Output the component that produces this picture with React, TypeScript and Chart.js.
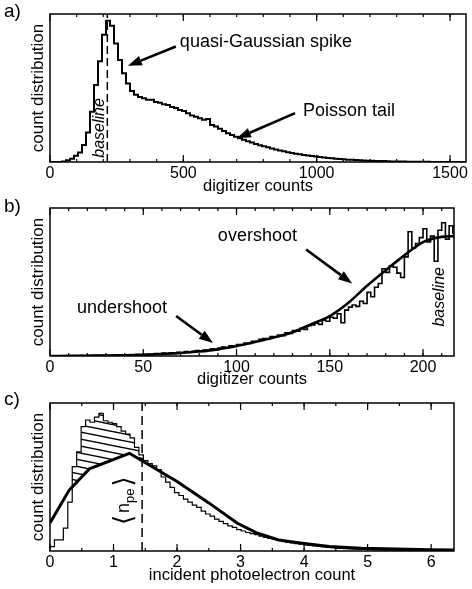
import React, { useEffect, useRef } from "react";
import { Chart, registerables } from "chart.js";

Chart.register(...registerables);

const FONT = "'Liberation Sans', Arial, Helvetica, sans-serif";

// ---------------- panel a ----------------
const aBinWidth = 15;
const aCounts = [
  0, 0, 0, 0.004, 0.012, 0.022, 0.042, 0.065, 0.115, 0.2,
  0.34, 0.52, 0.68, 0.86, 0.955, 0.92, 0.8, 0.69, 0.6, 0.53,
  0.48, 0.455, 0.44, 0.43, 0.42, 0.42, 0.405, 0.4, 0.39, 0.385,
  0.372, 0.365, 0.352, 0.345, 0.33, 0.315, 0.305, 0.295, 0.285, 0.29,
  0.25, 0.24, 0.225, 0.21, 0.195, 0.183, 0.17, 0.16, 0.15, 0.14,
  0.132, 0.122, 0.113, 0.106, 0.099, 0.091, 0.084, 0.078, 0.072, 0.066,
  0.061, 0.056, 0.052, 0.048, 0.044, 0.04, 0.037, 0.034, 0.031, 0.027,
  0.025, 0.022, 0.02, 0.018, 0.016, 0.015, 0.013, 0.011, 0.01, 0.009,
  0.008, 0.007, 0.006, 0.006, 0.005, 0.004, 0.004, 0.003, 0.003, 0.002,
  0.002, 0.002, 0.001, 0.001, 0.001, 0, 0, 0, 0, 0,
  0, 0, 0, 0,
];
const aTicks = [0, 500, 1000, 1500];
const aMinorStep = 100;
const aBaseline = 215;

// ---------------- panel b ----------------
const bBinWidth = 2;
const bCounts = [
  0, 0, 0.002, 0, 0.002, 0.002, 0, 0.002, 0.003, 0.002,
  0.003, 0.002, 0.004, 0.003, 0.004, 0.003, 0.005, 0.004, 0.006, 0.005,
  0.006, 0.008, 0.006, 0.009, 0.008,
  0.01, 0.012, 0.01, 0.016, 0.013, 0.02, 0.016, 0.022, 0.018, 0.025,
  0.022, 0.03, 0.026, 0.032, 0.036, 0.033, 0.04, 0.038, 0.048, 0.043,
  0.054, 0.06, 0.056, 0.069, 0.064,
  0.078, 0.074, 0.088, 0.084, 0.1, 0.1, 0.112, 0.118, 0.114, 0.132,
  0.128, 0.142, 0.138, 0.156, 0.152, 0.172, 0.168, 0.188, 0.18, 0.204,
  0.21, 0.222, 0.214, 0.242, 0.235,
  0.262, 0.255, 0.285, 0.225, 0.31, 0.33, 0.345, 0.335, 0.37, 0.355,
  0.43, 0.4, 0.465, 0.49, 0.59, 0.565, 0.61, 0.6, 0.56, 0.53,
  0.67, 0.84, 0.73, 0.76, 0.8,
  0.86, 0.77, 0.81, 0.64, 0.85, 0.9, 0.79, 0.88, 0.83,
];
const bFitX = [0, 10, 20, 30, 40, 50, 60, 70, 80, 90, 100, 110, 120, 130, 140, 150, 160, 170, 180, 190, 200, 210, 217];
const bFitY = [0, 0.001, 0.002, 0.003, 0.005, 0.008, 0.013, 0.02, 0.03, 0.045, 0.068, 0.095, 0.125, 0.16, 0.215, 0.27, 0.36, 0.475, 0.58, 0.68, 0.77, 0.805, 0.81];
const bTicks = [0, 50, 100, 150, 200];
const bMinorStep = 10;

// ---------------- panel c ----------------
const cBinWidth = 0.07;
const cCounts = [
  0.03, 0.075, 0.075, 0.155, 0.33, 0.57, 0.67, 0.84, 0.885, 0.87,
  0.905, 0.93, 0.88, 0.87, 0.86, 0.84, 0.81, 0.79, 0.765, 0.7,
  0.65, 0.61, 0.59, 0.575, 0.55, 0.5, 0.465, 0.43, 0.395, 0.375,
  0.35, 0.33, 0.31, 0.295, 0.27, 0.25, 0.235, 0.215, 0.2, 0.185,
  0.17, 0.16, 0.145, 0.135, 0.125, 0.118, 0.11, 0.1, 0.092, 0.085,
  0.078, 0.072, 0.066, 0.06, 0.055, 0.05, 0.046, 0.042, 0.038, 0.034,
  0.031, 0.028, 0.025, 0.022, 0.02, 0.018, 0.016, 0.014, 0.013, 0.012,
  0.011, 0.01, 0.009, 0.008, 0.007, 0.006, 0.006, 0.005, 0.005, 0.004,
  0.004, 0.003, 0.003, 0.003, 0.002, 0.002, 0.002, 0.001, 0.001, 0.001,
];
const cCurveX = [0, 0.3, 0.62, 1.25, 2.0, 2.5, 2.95, 3.27, 3.6, 3.97, 4.4, 4.9, 5.45, 5.97, 6.36];
const cCurveY = [0.19, 0.41, 0.555, 0.66, 0.47, 0.325, 0.187, 0.12, 0.074, 0.052, 0.03, 0.018, 0.013, 0.009, 0.006];
const cTicks = [0, 1, 2, 3, 4, 5, 6];
const cMinorStep = 0.5;
const cMean = 1.45;

// ---------------- helpers ----------------
function histPoints(counts: number[], width: number) {
  const pts = counts.map((v, i) => ({ x: i * width, y: v }));
  pts.push({ x: counts.length * width, y: counts[counts.length - 1] });
  return pts;
}
function zipPoints(xs: number[], ys: number[]) {
  return xs.map((x, i) => ({ x, y: ys[i] }));
}
function vline(x: number) {
  return [{ x, y: 0 }, { x, y: 1 }];
}

type Note =
  | { kind: "text"; text: string; x: number; y: number; size: number; italic?: boolean; rotate?: boolean }
  | { kind: "arrow"; x1: number; y1: number; x2: number; y2: number }
  | { kind: "npe"; x: number; y: number };

function scales(xmin: number, xmax: number, ticks: number[], xTitle: string, xAxisH: number) {
  return {
    x: {
      type: "linear",
      min: xmin,
      max: xmax,
      grid: { display: false, drawTicks: false },
      border: { display: false },
      afterBuildTicks: (s: any) => {
        s.ticks = ticks.map((v) => ({ value: v }));
      },
      afterFit: (s: any) => {
        s.height = xAxisH;
      },
      ticks: {
        color: "#000",
        font: { size: 16, family: FONT },
        padding: 2,
        maxRotation: 0,
        minRotation: 0,
        autoSkip: false,
        callback: (v: any) => String(v),
      },
      title: { display: true, text: xTitle, color: "#000", font: { size: 16.5, family: FONT }, padding: 0 },
    },
    y: {
      type: "linear",
      min: 0,
      max: 1,
      grid: { display: false, drawTicks: false },
      border: { display: false },
      ticks: { display: false },
      afterFit: (s: any) => {
        s.width = 50;
      },
      title: {
        display: true,
        text: "count distribution",
        color: "#000",
        font: { size: 17, family: FONT },
        padding: { top: 28, bottom: 0 },
      },
    },
  };
}

function decorPlugin(cfg: {
  label: string;
  labelY: number;
  major: number[];
  minorStep: number;
  xmin: number;
  xmax: number;
  notes: Note[];
}) {
  return {
    id: "decor",
    afterDatasetsDraw(chart: any) {
      const { ctx, chartArea } = chart;
      const { left, right, top, bottom } = chartArea;
      const xs = chart.scales.x;
      const ys = chart.scales.y;
      ctx.save();
      ctx.strokeStyle = "#000";
      ctx.fillStyle = "#000";
      ctx.lineWidth = 1.5;
      ctx.strokeRect(left, top, right - left, bottom - top);
      ctx.lineWidth = 1.2;
      const tick = (v: number, len: number) => {
        const px = xs.getPixelForValue(v);
        ctx.beginPath();
        ctx.moveTo(px, bottom);
        ctx.lineTo(px, bottom - len);
        ctx.moveTo(px, top);
        ctx.lineTo(px, top + len);
        ctx.stroke();
      };
      for (let v = cfg.xmin + cfg.minorStep; v < cfg.xmax - 1e-9; v += cfg.minorStep) tick(v, 3);
      cfg.major.forEach((v) => tick(v, 7));

      for (const n of cfg.notes) {
        if (n.kind === "text") {
          const px = xs.getPixelForValue(n.x);
          const py = ys.getPixelForValue(n.y);
          ctx.font = `${n.italic ? "italic " : ""}${n.size}px ${FONT}`;
          ctx.textBaseline = "middle";
          if (n.rotate) {
            ctx.save();
            ctx.translate(px, py);
            ctx.rotate(-Math.PI / 2);
            ctx.textAlign = "center";
            ctx.fillText(n.text, 0, 0);
            ctx.restore();
          } else {
            ctx.textAlign = "left";
            ctx.fillText(n.text, px, py);
          }
        } else if (n.kind === "arrow") {
          const ax = xs.getPixelForValue(n.x1);
          const ay = ys.getPixelForValue(n.y1);
          const bx = xs.getPixelForValue(n.x2);
          const by = ys.getPixelForValue(n.y2);
          const ang = Math.atan2(by - ay, bx - ax);
          const hl = 14;
          const hw = 5;
          const cx = bx - hl * Math.cos(ang);
          const cy = by - hl * Math.sin(ang);
          ctx.lineWidth = 2.6;
          ctx.beginPath();
          ctx.moveTo(ax, ay);
          ctx.lineTo(cx, cy);
          ctx.stroke();
          ctx.beginPath();
          ctx.moveTo(bx, by);
          ctx.lineTo(cx - hw * Math.sin(ang), cy + hw * Math.cos(ang));
          ctx.lineTo(cx + hw * Math.sin(ang), cy - hw * Math.cos(ang));
          ctx.closePath();
          ctx.fill();
        } else if (n.kind === "npe") {
          const px = xs.getPixelForValue(n.x);
          const py = ys.getPixelForValue(n.y);
          ctx.save();
          ctx.translate(px, py);
          ctx.rotate(-Math.PI / 2);
          ctx.textBaseline = "middle";
          ctx.textAlign = "left";
          const parts = [
            { t: "\u27E8", f: `26px 'DejaVu Sans'`, dy: 0, gap: 2 },
            { t: "n", f: `18px ${FONT}`, dy: -1, gap: 0 },
            { t: "pe", f: `13px ${FONT}`, dy: 5, gap: 2 },
            { t: "\u27E9", f: `26px 'DejaVu Sans'`, dy: 0, gap: 0 },
          ];
          let total = 0;
          const ws = parts.map((p) => {
            ctx.font = p.f;
            const w = ctx.measureText(p.t).width;
            total += w + p.gap;
            return w;
          });
          let cur = -total / 2;
          parts.forEach((p, i) => {
            ctx.font = p.f;
            ctx.fillText(p.t, cur, p.dy);
            cur += ws[i] + p.gap;
          });
          ctx.restore();
        }
      }

      ctx.font = `19px ${FONT}`;
      ctx.textBaseline = "alphabetic";
      ctx.textAlign = "left";
      ctx.fillText(cfg.label, 4, cfg.labelY);
      ctx.restore();
    },
  };
}

const common = {
  animation: false,
  responsive: false,
  events: [],
  plugins: { legend: { display: false }, tooltip: { enabled: false } },
  elements: { point: { radius: 0 } },
};

function makeA(): any {
  const xmax = 1560;
  return {
    type: "line",
    data: {
      datasets: [
        { data: histPoints(aCounts, aBinWidth), stepped: true, borderColor: "#000", borderWidth: 2, fill: false, pointRadius: 0 },
        { data: vline(aBaseline), borderColor: "#000", borderWidth: 1.5, borderDash: [8, 4], fill: false, pointRadius: 0 },
      ],
    },
    options: {
      ...common,
      layout: { padding: { left: 0, right: 6, top: 14, bottom: 0 } },
      scales: scales(0, xmax, aTicks, "digitizer counts", 34),
    },
    plugins: [
      decorPlugin({
        label: "a)",
        labelY: 17,
        major: aTicks,
        minorStep: aMinorStep,
        xmin: 0,
        xmax,
        notes: [
          { kind: "text", text: "quasi-Gaussian spike", x: 487, y: 0.81, size: 18 },
          { kind: "arrow", x1: 472, y1: 0.78, x2: 292, y2: 0.65 },
          { kind: "text", text: "Poisson tail", x: 949, y: 0.345, size: 18 },
          { kind: "arrow", x1: 919, y1: 0.33, x2: 701, y2: 0.16 },
          { kind: "text", text: "baseline", x: 187, y: 0.23, size: 16, italic: true, rotate: true },
        ],
      }),
    ],
  };
}

function makeB(): any {
  const xmax = 216.6;
  return {
    type: "line",
    data: {
      datasets: [
        { data: histPoints(bCounts, bBinWidth), stepped: true, borderColor: "#000", borderWidth: 1.6, fill: false, pointRadius: 0 },
        { data: zipPoints(bFitX, bFitY), borderColor: "#000", borderWidth: 2.6, cubicInterpolationMode: "monotone", fill: false, pointRadius: 0 },
      ],
    },
    options: {
      ...common,
      layout: { padding: { left: 0, right: 18, top: 12, bottom: 0 } },
      scales: scales(0, xmax, bTicks, "digitizer counts", 33),
    },
    plugins: [
      decorPlugin({
        label: "b)",
        labelY: 16,
        major: bTicks,
        minorStep: bMinorStep,
        xmin: 0,
        xmax,
        notes: [
          { kind: "text", text: "undershoot", x: 14.5, y: 0.324, size: 18 },
          { kind: "arrow", x1: 67.6, y1: 0.27, x2: 87.4, y2: 0.088 },
          { kind: "text", text: "overshoot", x: 90, y: 0.81, size: 18 },
          { kind: "arrow", x1: 137.3, y1: 0.72, x2: 162, y2: 0.49 },
          { kind: "text", text: "baseline", x: 209, y: 0.4, size: 16, italic: true, rotate: true },
        ],
      }),
    ],
  };
}

function makeHatch(): any {
  const c = document.createElement("canvas");
  c.width = 35;
  c.height = 7;
  const g = c.getContext("2d")!;
  g.strokeStyle = "#000";
  g.lineWidth = 1.3;
  for (const off of [-7, 0, 7]) {
    g.beginPath();
    g.moveTo(0, off);
    g.lineTo(35, off + 7);
    g.stroke();
  }
  return g.createPattern(c, "repeat");
}

function makeC(): any {
  const xmax = 6.36;
  return {
    type: "line",
    data: {
      datasets: [
        {
          data: histPoints(cCounts, cBinWidth),
          stepped: true,
          borderColor: "#000",
          borderWidth: 1.2,
          fill: { target: 1, above: makeHatch(), below: "rgba(0,0,0,0)" },
          pointRadius: 0,
        },
        { data: zipPoints(cCurveX, cCurveY), borderColor: "#000", borderWidth: 3, fill: false, pointRadius: 0 },
        { data: vline(cMean), borderColor: "#000", borderWidth: 1.5, borderDash: [9, 5], fill: false, pointRadius: 0 },
      ],
    },
    options: {
      ...common,
      plugins: { ...common.plugins, filler: { drawTime: "beforeDatasetsDraw" } },
      layout: { padding: { left: 0, right: 18, top: 15, bottom: 0 } },
      scales: scales(0, xmax, cTicks, "incident photoelectron count", 34),
    },
    plugins: [
      decorPlugin({
        label: "c)",
        labelY: 17,
        major: cTicks,
        minorStep: cMinorStep,
        xmin: 0,
        xmax,
        notes: [{ kind: "npe", x: 1.18, y: 0.34 }],
      }),
    ],
  };
}

function Panel({ make, top, height }: { make: () => any; top: number; height: number }) {
  const ref = useRef<HTMLCanvasElement>(null);
  useEffect(() => {
    const chart = new Chart(ref.current as HTMLCanvasElement, make());
    return () => chart.destroy();
  }, []);
  return (
    <canvas
      ref={ref}
      width={472}
      height={height}
      style={{ position: "absolute", left: 0, top, width: 472, height }}
    />
  );
}

export default function App() {
  return (
    <div
      style={{
        position: "absolute",
        left: 0,
        top: 0,
        width: 472,
        height: 589,
        background: "#fff",
        overflow: "hidden",
      }}
    >
      <Panel make={makeA} top={0} height={196} />
      <Panel make={makeB} top={196} height={193} />
      <Panel make={makeC} top={388} height={197} />
    </div>
  );
}
